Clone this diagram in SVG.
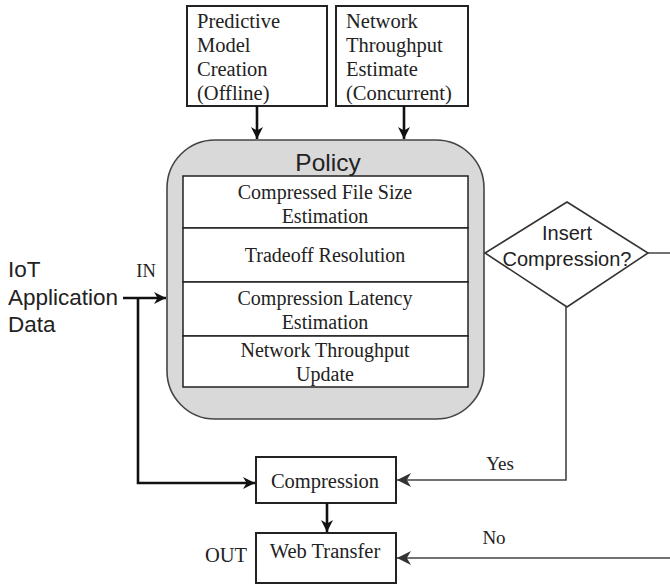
<svg xmlns="http://www.w3.org/2000/svg" width="670" height="587" viewBox="0 0 670 587">
<style>
.box{fill:#fff;stroke:#222;stroke-width:2}
.row{fill:#fff;stroke:#222;stroke-width:1.5}
.serif{font-family:"Liberation Serif","Times New Roman",serif;fill:#222}
.sans{font-family:"Liberation Sans",Arial,sans-serif;fill:#222}
.thick{fill:none;stroke:#111;stroke-width:2.6}
.thin{fill:none;stroke:#444;stroke-width:1.6}
</style>
<defs>
<marker id="ah" markerWidth="12" markerHeight="12" refX="10" refY="5" orient="auto" markerUnits="userSpaceOnUse" viewBox="0 0 10 10">
<path d="M0,0 L10,5 L0,10 L3,5 z" fill="#111"/>
</marker>
<marker id="ao" markerWidth="14" markerHeight="14" refX="10" refY="5" orient="auto" markerUnits="userSpaceOnUse" viewBox="0 0 10 10">
<path d="M0,0 L10,5 L0,10 L3,5 z" fill="#333"/>
</marker>
</defs>
<rect width="670" height="587" fill="#fff"/>

<g id="predictive">
<rect class="box" x="187" y="6" width="140" height="100"/>
<text class="serif" font-size="20.5"><tspan x="197" y="28">Predictive</tspan><tspan x="197" y="52">Model</tspan><tspan x="197" y="76">Creation</tspan><tspan x="197" y="100">(Offline)</tspan></text>
</g>

<g id="throughput-estimate">
<rect class="box" x="336" y="6" width="132" height="100"/>
<text class="serif" font-size="20.5"><tspan x="346" y="28">Network</tspan><tspan x="346" y="52">Throughput</tspan><tspan x="346" y="76">Estimate</tspan><tspan x="346" y="100">(Concurrent)</tspan></text>
</g>

<g id="policy">
<rect x="167" y="140" width="317" height="279" rx="48" ry="48" fill="#d9d9d9" stroke="#444" stroke-width="1.6"/>
<text class="sans" font-size="24.5" x="328" y="171" text-anchor="middle">Policy</text>
<rect class="row" x="183" y="176" width="285" height="52"/>
<rect class="row" x="183" y="228" width="285" height="54"/>
<rect class="row" x="183" y="282" width="285" height="54"/>
<rect class="row" x="183" y="336" width="285" height="51"/>
<g class="serif" font-size="20" text-anchor="middle">
<text x="325" y="199">Compressed File Size</text>
<text x="325" y="223">Estimation</text>
<text x="325" y="262">Tradeoff Resolution</text>
<text x="325" y="305">Compression Latency</text>
<text x="325" y="329">Estimation</text>
<text x="325" y="357">Network Throughput</text>
<text x="325" y="381">Update</text>
</g>
</g>

<g id="decision">
<polygon points="567,202 648,253 567,307 485,253" fill="#fff" stroke="#333" stroke-width="1.6"/>
<text class="sans" font-size="20" text-anchor="middle"><tspan x="567" y="240">Insert</tspan><tspan x="567" y="266">Compression?</tspan></text>
</g>

<g id="iot-data">
<text class="sans" font-size="22.5"><tspan x="8" y="277">IoT</tspan><tspan x="8" y="305">Application</tspan><tspan x="8" y="332">Data</tspan></text>
<text class="serif" font-size="18.5" x="146" y="277" text-anchor="middle">IN</text>
</g>

<g id="compression">
<rect class="box" x="256" y="457" width="140" height="46"/>
<text class="serif" font-size="20.5" x="325" y="488" text-anchor="middle">Compression</text>
</g>

<g id="web-transfer">
<rect class="box" x="256" y="533" width="140" height="50"/>
<text class="serif" font-size="20.5" x="325" y="558" text-anchor="middle">Web Transfer</text>
<text class="serif" font-size="20.5" x="226" y="562" text-anchor="middle">OUT</text>
</g>

<g id="connectors">
<line class="thick" x1="257" y1="106" x2="257" y2="139" marker-end="url(#ah)"/>
<line class="thick" x1="404" y1="106" x2="404" y2="139" marker-end="url(#ah)"/>
<line class="thick" x1="123" y1="298" x2="166" y2="298" marker-end="url(#ah)"/>
<polyline class="thick" points="138,298 138,483 255,483" marker-end="url(#ah)"/>
<line class="thick" x1="327" y1="503" x2="327" y2="532" marker-end="url(#ah)"/>
<polyline class="thin" points="566,307 566,480 397,480" marker-end="url(#ao)"/>
<polyline class="thin" points="648,253 672,253 672,558 397,558" marker-end="url(#ao)"/>
<text class="serif" font-size="19" x="500" y="470" text-anchor="middle">Yes</text>
<text class="serif" font-size="19" x="494" y="544" text-anchor="middle">No</text>
</g>
</svg>
